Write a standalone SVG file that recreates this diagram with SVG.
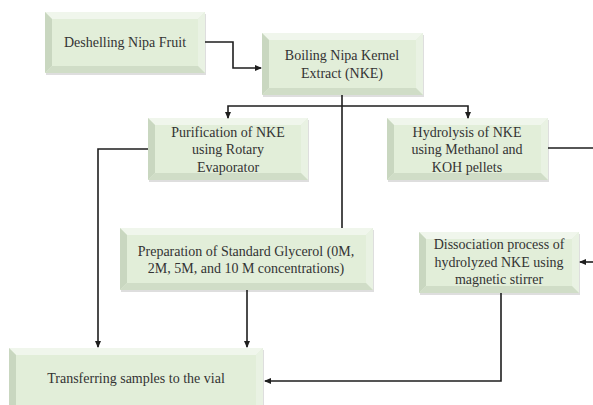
<svg xmlns="http://www.w3.org/2000/svg" width="593" height="405" viewBox="0 0 593 405">
<defs>
<style>
.face{fill:#e2eed9}
.top{fill:#f0f6ec}
.lft{fill:#c9d7c0}
.rgt{fill:#e9f2e3}
.bot{fill:#d0ddc7}
.shd{fill:#c8c8c8;opacity:0.6}
text{font-family:"Liberation Serif","DejaVu Serif",serif;font-size:14px;fill:#333;text-anchor:middle}
.ln{fill:none;stroke:#1e1e1e;stroke-width:1.6}
</style>
<marker id="ah" markerWidth="7" markerHeight="6" refX="6" refY="3" orient="auto" markerUnits="userSpaceOnUse">
<path d="M0,0 L7,3 L0,6 Z" fill="#1e1e1e"/>
</marker>
</defs>
<rect width="593" height="405" fill="#fff"/>

<g id="n1">
<rect class="shd" x="46" y="14" width="160" height="61"/>
<rect class="face" x="45" y="12" width="160" height="61"/>
<polygon class="top" points="45,12 205,12 198,19 52,19"/>
<polygon class="lft" points="45,12 52,19 52,66 45,73"/>
<polygon class="rgt" points="205,12 205,73 198,66 198,19"/>
<polygon class="bot" points="45,73 205,73 198,66 52,66"/>
<text x="125" y="47">Deshelling Nipa Fruit</text>
</g>

<g id="n2">
<rect class="shd" x="263" y="35" width="161" height="62"/>
<rect class="face" x="262" y="33" width="161" height="62"/>
<polygon class="top" points="262,33 423,33 416,40 269,40"/>
<polygon class="lft" points="262,33 269,40 269,88 262,95"/>
<polygon class="rgt" points="423,33 423,95 416,88 416,40"/>
<polygon class="bot" points="262,95 423,95 416,88 269,88"/>
<text x="342" y="60">Boiling Nipa Kernel</text>
<text x="342" y="78">Extract (NKE)</text>
</g>

<g id="n3">
<rect class="shd" x="149" y="120" width="160" height="62"/>
<rect class="face" x="148" y="118" width="160" height="62"/>
<polygon class="top" points="148,118 308,118 301,125 155,125"/>
<polygon class="lft" points="148,118 155,125 155,173 148,180"/>
<polygon class="rgt" points="308,118 308,180 301,173 301,125"/>
<polygon class="bot" points="148,180 308,180 301,173 155,173"/>
<text x="228" y="137">Purification of NKE</text>
<text x="228" y="154">using Rotary</text>
<text x="228" y="172">Evaporator</text>
</g>

<g id="n4">
<rect class="shd" x="388" y="120" width="161" height="62"/>
<rect class="face" x="387" y="118" width="161" height="62"/>
<polygon class="top" points="387,118 548,118 541,125 394,125"/>
<polygon class="lft" points="387,118 394,125 394,173 387,180"/>
<polygon class="rgt" points="548,118 548,180 541,173 541,125"/>
<polygon class="bot" points="387,180 548,180 541,173 394,173"/>
<text x="467" y="137">Hydrolysis of NKE</text>
<text x="467" y="154">using Methanol and</text>
<text x="467" y="172">KOH pellets</text>
</g>

<g id="n5">
<rect class="shd" x="121" y="230" width="253" height="62"/>
<rect class="face" x="120" y="228" width="253" height="62"/>
<polygon class="top" points="120,228 373,228 366,235 127,235"/>
<polygon class="lft" points="120,228 127,235 127,283 120,290"/>
<polygon class="rgt" points="373,228 373,290 366,283 366,235"/>
<polygon class="bot" points="120,290 373,290 366,283 127,283"/>
<text x="246" y="256">Preparation of Standard Glycerol (0M,</text>
<text x="246" y="273">2M, 5M, and 10 M concentrations)</text>
</g>

<g id="n6">
<rect class="shd" x="420" y="234" width="160" height="61"/>
<rect class="face" x="419" y="232" width="160" height="61"/>
<polygon class="top" points="419,232 579,232 572,239 426,239"/>
<polygon class="lft" points="419,232 426,239 426,286 419,293"/>
<polygon class="rgt" points="579,232 579,293 572,286 572,239"/>
<polygon class="bot" points="419,293 579,293 572,286 426,286"/>
<text x="499" y="249">Dissociation process of</text>
<text x="499" y="267">hydrolyzed NKE using</text>
<text x="499" y="284">magnetic stirrer</text>
</g>

<g id="n7">
<rect class="shd" x="10" y="350" width="254" height="62"/>
<rect class="face" x="9" y="348" width="254" height="62"/>
<polygon class="top" points="9,348 263,348 256,355 16,355"/>
<polygon class="lft" points="9,348 16,355 16,410 9,410"/>
<polygon class="rgt" points="263,348 263,410 256,410 256,355"/>
<text x="136" y="383">Transferring samples to the vial</text>
</g>

<g id="connectors">
<path class="ln" d="M205,42 H233 V68 H261" marker-end="url(#ah)"/>
<path class="ln" d="M342,95 V228"/>
<path class="ln" d="M342,106 H228 V118" marker-end="url(#ah)"/>
<path class="ln" d="M342,106 H468 V118" marker-end="url(#ah)"/>
<path class="ln" d="M548,148 H593"/>
<path class="ln" d="M593,262 H580" marker-end="url(#ah)"/>
<path class="ln" d="M148,149 H98 V347" marker-end="url(#ah)"/>
<path class="ln" d="M247,290 V347" marker-end="url(#ah)"/>
<path class="ln" d="M501,293 V381 H265" marker-end="url(#ah)"/>
</g>
</svg>
